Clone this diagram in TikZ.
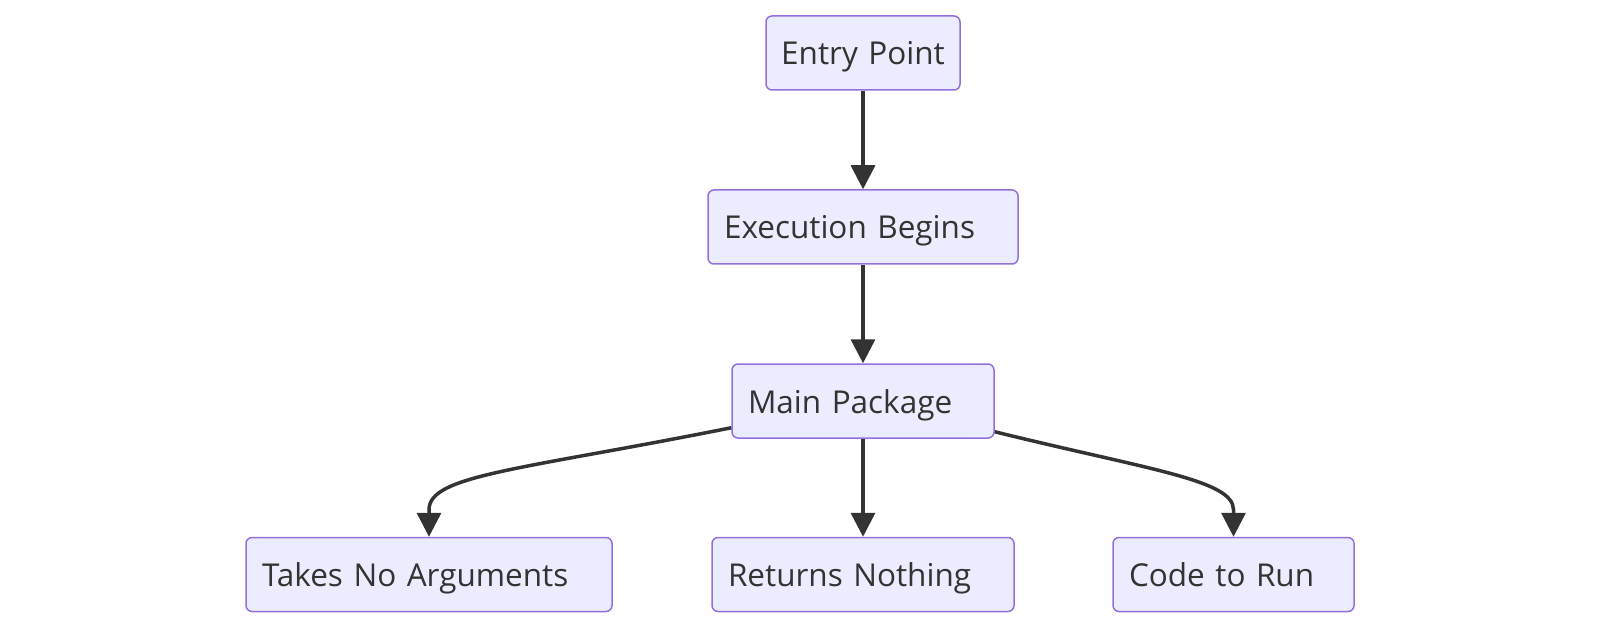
\documentclass[tikz,border=0pt]{standalone}
\usepackage{fontspec}
\setmainfont{Open Sans}
\usetikzlibrary{arrows.meta,calc}
\definecolor{nodefill}{HTML}{ECECFF}
\definecolor{nodeborder}{HTML}{9370DB}
\definecolor{ink}{HTML}{333333}
\begin{document}
\begin{tikzpicture}[x=1pt,y=-1pt,
  box/.style={draw=nodeborder, fill=nodefill, line width=1.5pt, rounded corners=6pt,
    minimum height=74pt, inner xsep=16pt, inner ysep=0pt, align=left, text=ink,
    text height=30pt, text depth=6pt,
    font=\fontsize{31.5}{36}\selectfont},
  edge/.style={draw=ink, line width=3.5pt, -{Triangle[length=24pt,width=24pt]}}]
\useasboundingbox (0,0) rectangle (1600,628);
\node[box, text width=186pt, inner xsep=4pt, align=center] (ep) at (863,53) {Entry Point};
\node[box, text width=278pt] (eb) at (863,227) {Execution Begins};
\node[box, text width=230pt] (mp) at (863,401) {Main Package};
\node[box, text width=334pt] (tn) at (429,574.5) {Takes No Arguments};
\node[box, text width=270pt] (rn) at (863,574.5) {Returns Nothing};
\node[box, text width=209pt] (cr) at (1233.5,574.5) {Code to Run};
\draw[edge] (ep) -- (eb);
\draw[edge] (eb) -- (mp);
\draw[edge] (mp) -- (rn);
\coordinate (mpL) at ($(mp.south west)+(0,-11)$);
\coordinate (mpR) at ($(mp.south east)+(0,-7)$);
\coordinate (tnT) at ($(tn.north)+(0,-27)$);
\coordinate (crT) at ($(cr.north)+(0,-27)$);
\draw[edge] (mpL) .. controls (520,470) and (429,475) .. (tnT) -- (tn.north);
\draw[edge] (mpR) .. controls (1150,470) and (1233.5,480) .. (crT) -- (cr.north);
\end{tikzpicture}
\end{document}
